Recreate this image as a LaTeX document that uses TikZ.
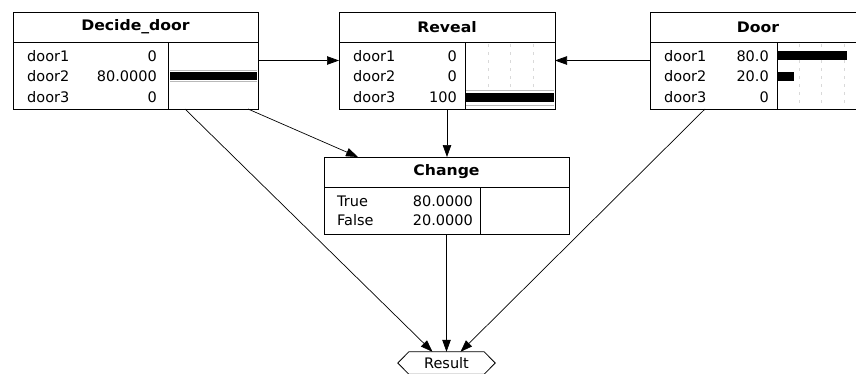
\documentclass[tikz,border=0pt]{standalone}
\usepackage{fontspec}
\setmainfont{DejaVu Sans}
\newfontfamily\titlefont{DejaVu Sans}[FakeStretch=1.08]
\usetikzlibrary{arrows.meta,calc}

\begin{document}
\begin{tikzpicture}[x=1pt,y=-1pt,
  frame/.style={draw, line width=0.9pt, inner sep=0pt, outer sep=0pt, anchor=north west},
  sepline/.style={line width=0.9pt},
  conn/.style={line width=0.7pt, -{Triangle[length=12pt,width=8.5pt]}},
  ttl/.style={font=\titlefont\bfseries\fontsize{14.5}{16}\selectfont, inner sep=0pt},
  lbl/.style={font=\fontsize{14.5}{16}\selectfont, inner sep=0pt, anchor=west},
  val/.style={font=\fontsize{14.5}{16}\selectfont, inner sep=0pt, anchor=east},
  gridmark/.style={gray!30, line width=0.6pt, dash pattern=on 3pt off 5pt},
  barrim/.style={gray!55, line width=0.7pt}
]
\useasboundingbox (0,0) rectangle (856,373);

% ---------- Decide_door ----------
\node[frame, minimum width=245pt, minimum height=97pt] (dd) at (13,12) {};
\draw[sepline] (13,42) -- (258,42);
\draw[sepline] (168,42) -- (168,109);
\node[ttl] (ddt) at (135.5,27) {Decide\_door};
\node[lbl] (dd1) at (27,56.5) {door1};
\node[lbl] (dd2) at (27,76.5) {door2};
\node[lbl] (dd3) at (27,97) {door3};
\node[val] (ddv1) at (157,56.5) {0};
\node[val] (ddv2) at (157,76.5) {80.0000};
\node[val] (ddv3) at (157,97) {0};
\draw[barrim] (170,70.3) -- (257,70.3);
\fill (170,72.3) rectangle (257,79.8);
\draw[barrim] (170,81.8) -- (257,81.8);

% ---------- Reveal ----------
\node[frame, minimum width=216pt, minimum height=97pt] (rv) at (339,12) {};
\draw[sepline] (339,42) -- (555,42);
\draw[sepline] (465.5,42) -- (465.5,109);
\foreach \gx in {488,510.5,533}
  \draw[gridmark] (\gx,44) -- (\gx,89);
\node[ttl] (rvt) at (447,27) {Reveal};
\node[lbl] (rv1) at (353,56.5) {door1};
\node[lbl] (rv2) at (353,76.5) {door2};
\node[lbl] (rv3) at (353,97) {door3};
\node[val] (rvv1) at (457,56.5) {0};
\node[val] (rvv2) at (457,76.5) {0};
\node[val] (rvv3) at (457,97) {100};
\draw[barrim] (466,90.8) -- (554,90.8);
\fill (466,93.3) rectangle (554,102.3);
\draw[barrim] (466,105.6) -- (554,105.6);

% ---------- Door ----------
\node[frame, minimum width=216pt, minimum height=97pt] (door) at (650,12) {};
\draw[sepline] (650,42) -- (866,42);
\draw[sepline] (777,42) -- (777,109);
\foreach \gx in {799,821.5,844}
  \draw[gridmark] (\gx,44) -- (\gx,107);
\node[ttl] (doort) at (758,27) {Door};
\node[lbl] (do1) at (664,56.5) {door1};
\node[lbl] (do2) at (664,76.5) {door2};
\node[lbl] (do3) at (664,97) {door3};
\node[val] (dov1) at (769,56.5) {80.0};
\node[val] (dov2) at (769,76.5) {20.0};
\node[val] (dov3) at (769,97) {0};
\fill (778,51) rectangle (847,60);
\fill (778,72) rectangle (794,81);

% ---------- Change ----------
\node[frame, minimum width=245pt, minimum height=77pt] (ch) at (324,157) {};
\draw[sepline] (324,187) -- (569,187);
\draw[sepline] (480,187) -- (480,234);
\node[ttl] (cht) at (446.5,172) {Change};
\node[lbl] (ch1) at (337,201) {True};
\node[lbl] (ch2) at (337,220) {False};
\node[val] (chv1) at (473,201) {80.0000};
\node[val] (chv2) at (473,220) {20.0000};

% ---------- Result (utility node) ----------
\node[minimum width=97pt, minimum height=22pt, inner sep=0pt,
      font=\fontsize{14.5}{16}\selectfont] (res) at (446.5,363) {Result};
\draw[line width=0.8pt] (res.west) -- ([xshift=11pt]res.north west)
  -- ([xshift=-11pt]res.north east) -- (res.east)
  -- ([xshift=-11pt]res.south east) -- ([xshift=11pt]res.south west) -- cycle;

% ---------- connectors ----------
\draw[conn] (dd.east) -- (rv.west);
\draw[conn] (door.west) -- (rv.east);
\draw[conn] (rv.south) -- (rv.south |- ch.north);
\draw[conn] ([xshift=-10pt]dd.south east) -- ([xshift=34pt]ch.north west);
\draw[conn] ([xshift=172pt]dd.south west) -- ([xshift=-14pt]res.north);
\draw[conn] (ch.south) -- (res.north);
\draw[conn] ([xshift=55pt]door.south west) -- ([xshift=14pt]res.north);
\end{tikzpicture}
\end{document}
